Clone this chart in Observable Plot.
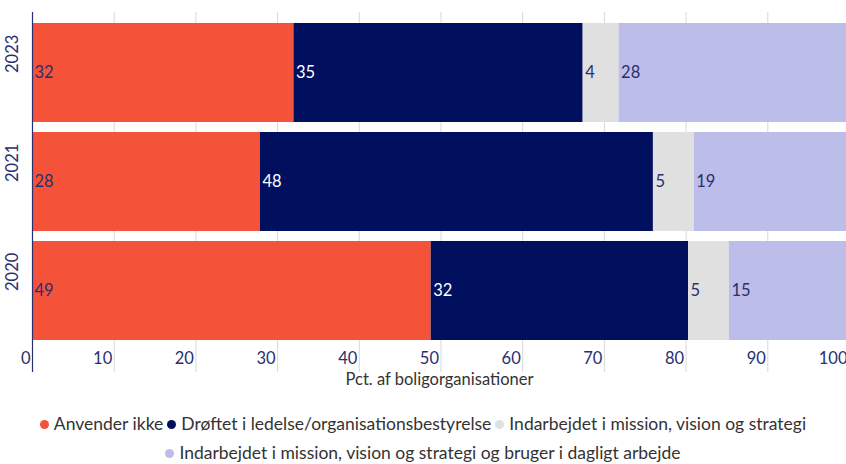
<!DOCTYPE html>
<html>
<head>
<meta charset="utf-8">
<script src="https://cdn.jsdelivr.net/npm/d3@7"></script>
<script src="https://cdn.jsdelivr.net/npm/@observablehq/plot@0.6"></script>
<style>
  html, body { margin: 0; padding: 0; background: #fff; width: 846px; overflow: hidden; }
  #legend { width: 846px; font-family: Lato, sans-serif; font-size: 17.5px; color: #333; text-align: center; line-height: 29px; margin-top: 9px; }
  #legend .item { white-space: nowrap; margin: 0 2px; }
  #legend .dot { display: inline-block; width: 9px; height: 9px; border-radius: 50%; margin-right: 5px; vertical-align: 1px; }
</style>
</head>
<body>
<div id="chart"></div>
<div id="legend"></div>
<script>
const years = ["2023", "2021", "2020"];
const categories = [
  "Anvender ikke",
  "Drøftet i ledelse/organisationsbestyrelse",
  "Indarbejdet i mission, vision og strategi",
  "Indarbejdet i mission, vision og strategi og bruger i dagligt arbejde"
];
const colors = ["#f4533a", "#00105f", "#e0e0e0", "#bcbde8"];
const labelColors = ["#2a2f6e", "#ffffff", "#2a2f6e", "#2a2f6e"];
// values per series, in order of years
const anvenderIkke = [32.0, 27.9, 48.8];
const droeftet = [35.4, 48.1, 31.5];
const indarbejdet = [4.4, 5.0, 5.0];
const dagligt = [28.2, 19.0, 14.7];
const xTicks = [0, 10, 20, 30, 40, 50, 60, 70, 80, 90, 100];
const xLabel = "Pct. af boligorganisationer";

const series = [anvenderIkke, droeftet, indarbejdet, dagligt];
const data = [];
years.forEach((year, i) => {
  categories.forEach((cat, j) => {
    data.push({year, cat, value: series[j][i], labelColor: labelColors[j]});
  });
});

const navy = "#2a2f6e";
const chart = Plot.plot({
  width: 846,
  height: 400,
  marginTop: 13,
  marginBottom: 49,
  marginLeft: 32,
  marginRight: 0,
  style: {fontFamily: "Lato, sans-serif", fontSize: "16px", background: "#fff", overflow: "visible"},
  x: {domain: [0, 100], range: [32, 849], axis: null},
  y: {domain: years, padding: 0.09, axis: null},
  color: {domain: categories, range: colors},
  marks: [
    Plot.gridX(xTicks, {stroke: "#d8d8d8", strokeOpacity: 1, insetTop: -1, insetBottom: -21}),
    Plot.barX(data, Plot.stackX({x: "value", y: "year", fill: "cat", order: categories})),
    Plot.text(data, Plot.stackX1({x: "value", y: "year", z: "cat", order: categories,
      text: d => String(Math.round(d.value)), fill: "labelColor", textAnchor: "start", dx: 2, fontSize: 16.5})),
    Plot.ruleX([0], {stroke: "#2a2f6e", strokeWidth: 1.2, insetTop: -1, insetBottom: -21}),
    Plot.text(xTicks, {x: d => d, frameAnchor: "bottom", dy: 12, textAnchor: "end", dx: -2, fill: navy, fontSize: 16.5, text: d => String(d)}),
    Plot.text(years, {y: d => d, frameAnchor: "left", dx: -20, rotate: -90, fill: navy, fontSize: 16.5, text: d => d}),
    Plot.text([xLabel], {frameAnchor: "bottom", dy: 33, fill: "#333", fontSize: 16.5, text: d => d})
  ]
});
document.getElementById("chart").appendChild(chart);

const legend = document.getElementById("legend");
const line1 = document.createElement("div");
const line2 = document.createElement("div");
categories.forEach((cat, j) => {
  const span = document.createElement("span");
  span.className = "item";
  span.innerHTML = `<span class="dot" style="background:${colors[j]}"></span>${cat}`;
  (j < 3 ? line1 : line2).appendChild(span);
});
legend.appendChild(line1);
legend.appendChild(line2);
</script>
</body>
</html>
